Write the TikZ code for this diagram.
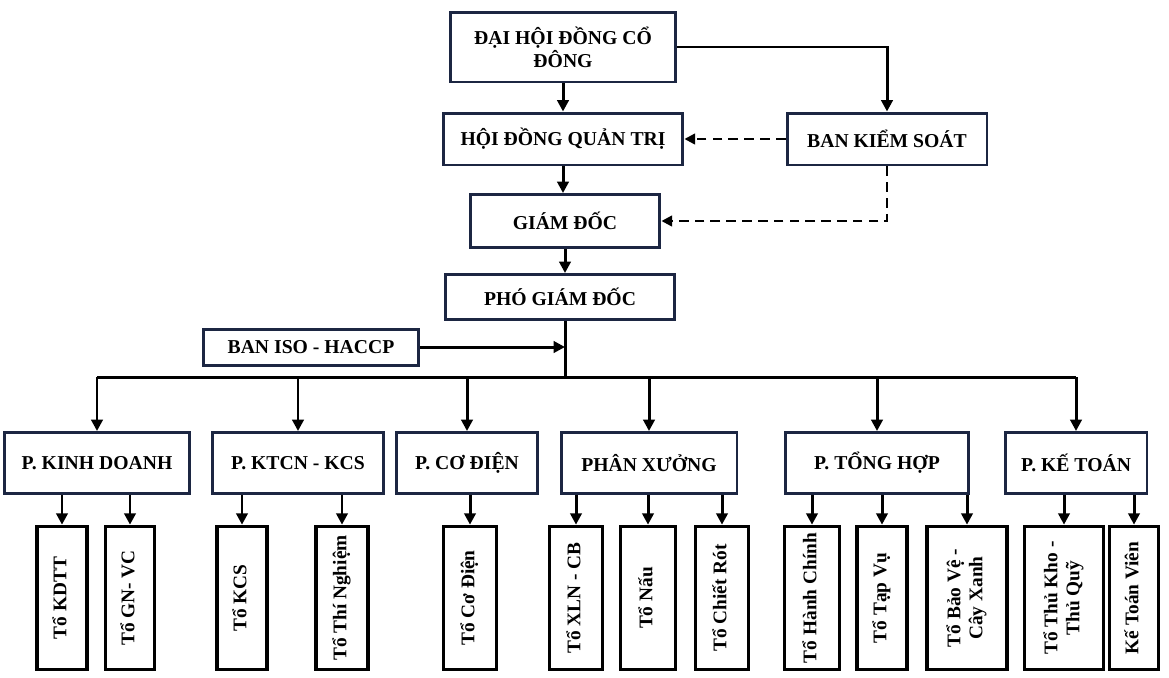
\documentclass[tikz,border=0pt]{standalone}
\usepackage{fontspec}
\setmainfont{Liberation Serif}
\usepackage{graphicx}
\usepackage{tikz}
\usetikzlibrary{arrows.meta}
\definecolor{boxnavy}{RGB}{28,38,66}
\newcommand{\vtext}[1]{\rotatebox{90}{\begin{tabular}{@{}c@{}}#1\end{tabular}}}

\begin{document}
\begin{tikzpicture}[
  x=0.02cm, y=-0.02cm,
  block/.style={draw=boxnavy, line width=1.7pt, fill=white, align=center,
                font=\bfseries\fontsize{11.2}{13}\selectfont, inner sep=2pt},
  dept/.style={block, minimum height=1.22cm},
  sub/.style={draw=black, line width=2.1pt, fill=white, inner sep=1pt,
              minimum height=2.86cm, font=\bfseries\fontsize{11}{12.5}\selectfont},
  conn/.style={line width=1.7pt},
  arr/.style={-{Triangle[length=6.5pt,width=6.5pt]}, line width=1.7pt},
  dasharr/.style={-{Triangle[length=6pt,width=6pt]}, line width=1.3pt,
                  dash pattern=on 5.5pt off 3.5pt}
]
  \useasboundingbox (0,0) rectangle (1169,677);

  % Management
  \node[block, minimum width=4.5cm, minimum height=1.4cm] (dhdcd) at (563,47) {ĐẠI HỘI ĐỒNG CỔ\\ĐÔNG};
  \node[block, minimum width=4.8cm, minimum height=1.04cm] (hdqt) at (563,139) {HỘI ĐỒNG QUẢN TRỊ};
  \node[block, minimum width=4.0cm, minimum height=1.04cm] (bks) at (887,139) {BAN KIỂM SOÁT};
  \node[block, minimum width=3.8cm, minimum height=1.06cm] (gd) at (565,221) {GIÁM ĐỐC};
  \node[block, minimum width=4.6cm, minimum height=0.9cm] (pgd) at (560,297) {PHÓ GIÁM ĐỐC};
  \node[block, minimum width=4.32cm, minimum height=0.72cm] (iso) at (311,347) {BAN ISO - HACCP};
  \coordinate (bus) at (565,377);

  % Departments
  \node[dept, minimum width=3.72cm] (kd) at (97,463) {P. KINH DOANH};
  \node[dept, minimum width=3.44cm] (ktcn) at (298,463) {P. KTCN - KCS};
  \node[dept, minimum width=2.82cm] (cd) at (467,463) {P. CƠ ĐIỆN};
  \node[dept, minimum width=3.52cm] (px) at (649,463) {PHÂN XƯỞNG};
  \node[dept, minimum width=3.66cm] (th) at (877,463) {P. TỔNG HỢP};
  \node[dept, minimum width=2.84cm] (kt) at (1076,463) {P. KẾ TOÁN};

  % Teams
  \node[sub, minimum width=1.0cm] (kdtt) at (62,598) {\vtext{Tổ KDTT}};
  \node[sub, minimum width=0.98cm] (gnvc) at (130,598) {\vtext{Tổ GN- VC}};
  \node[sub, minimum width=1.0cm] (kcs) at (242,598) {\vtext{Tổ KCS}};
  \node[sub, minimum width=1.04cm] (tn) at (342,598) {\vtext{Tổ Thí Nghiệm}};
  \node[sub, minimum width=1.06cm] (tcd) at (470,598) {\vtext{Tổ Cơ Điện}};
  \node[sub, minimum width=1.06cm] (xln) at (576,598) {\vtext{Tổ XLN - CB}};
  \node[sub, minimum width=1.1cm] (nau) at (648,598) {\vtext{Tổ Nấu}};
  \node[sub, minimum width=1.06cm] (cr) at (722,598) {\vtext{Tổ Chiết Rót}};
  \node[sub, minimum width=1.1cm] (hc) at (812,598) {\vtext{Tổ Hành Chính}};
  \node[sub, minimum width=1.0cm] (tv) at (882,598) {\vtext{Tổ Tạp Vụ}};
  \node[sub, minimum width=1.6cm] (bv) at (967,598) {\vtext{Tổ Bảo Vệ -\\Cây Xanh}};
  \node[sub, minimum width=1.58cm] (tk) at (1064,598) {\vtext{Tổ Thủ Kho -\\Thủ Quỹ}};
  \node[sub, minimum width=0.98cm] (ktv) at (1134,598) {\vtext{Kế Toán Viên}};

  % Top links
  \draw[arr] (dhdcd.south) -- (dhdcd.south |- hdqt.north);
  \draw[arr] (dhdcd.east) -| (bks.north);
  \draw[arr] (hdqt.south) -- (hdqt.south |- gd.north);
  \draw[arr] (gd.south) -- (gd.south |- pgd.north);
  \draw[dasharr] (bks.west) -- (hdqt.east);
  \draw[dasharr] (bks.south) |- (gd.east);

  % Bus to departments
  \draw[conn] (pgd.south -| bus) -- (bus);
  \draw[arr] (iso.east) -- (iso.east -| bus);
  \draw[conn] (kd.north |- bus) -- (kt.north |- bus);
  \foreach \d in {kd,ktcn,cd,px,th,kt}
    \draw[arr] (\d.north |- bus) -- (\d.north);

  % Departments to teams
  \foreach \d/\t in {kd/kdtt,kd/gnvc,ktcn/kcs,ktcn/tn,cd/tcd,px/xln,px/nau,px/cr,
                     th/hc,th/tv,th/bv,kt/tk,kt/ktv}
    \draw[arr] (\d.south -| \t.north) -- (\t.north);
\end{tikzpicture}
\end{document}
